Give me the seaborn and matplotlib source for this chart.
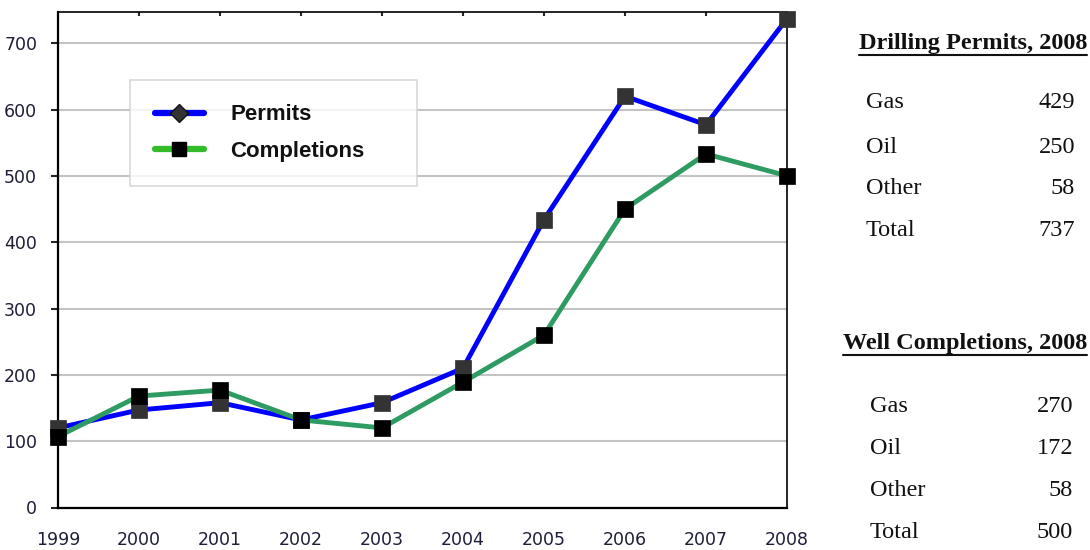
import numpy as np
import pandas as pd
import matplotlib
matplotlib.use("Agg")
import matplotlib.pyplot as plt
from matplotlib.lines import Line2D
import seaborn as sns

# Annual drilling activity
years = [1999, 2000, 2001, 2002, 2003, 2004, 2005, 2006, 2007, 2008]
permits = [120, 147, 158, 132, 158, 210, 434, 620, 577, 737]
completions = [107, 168, 177, 132, 120, 189, 260, 450, 533, 500]
y_ticks = [0, 100, 200, 300, 400, 500, 600, 700]

# 2008 breakdown tables
permit_types = ["Gas", "Oil", "Other", "Total"]
permit_counts = [429, 250, 58, 737]
completion_types = ["Gas", "Oil", "Other", "Total"]
completion_counts = [270, 172, 58, 500]

sns.set_style("white")
plt.rcParams["font.family"] = ["DejaVu Sans"]

df = pd.DataFrame({"Year": years, "Permits": permits, "Completions": completions})

fig = plt.figure(figsize=(10.9, 5.5), dpi=100)
ax = fig.add_axes([58 / 1090, 42.5 / 550, 729 / 1090, 495.5 / 550])

blue = "#0000FF"
green = "#2E9B62"

sns.lineplot(data=df, x="Year", y="Permits", ax=ax, color=blue, linewidth=3.5,
             marker="s", markersize=12, markerfacecolor="#333333",
             markeredgecolor="#333333", clip_on=False, zorder=3)
sns.lineplot(data=df, x="Year", y="Completions", ax=ax, color=green, linewidth=3.5,
             marker="s", markersize=12, markerfacecolor="#000000",
             markeredgecolor="#000000", clip_on=False, zorder=4)
for ln, fc in zip(ax.lines, ["#333333", "#000000"]):
    ln.set_markerfacecolor(fc)
    ln.set_markeredgecolor(fc)
    ln.set_markeredgewidth(0.5)

ax.set_xlim(years[0], years[-1])
ax.set_ylim(0, 747)
ax.set_xticks(years)
ax.set_xticklabels([str(y) for y in years])
ax.set_yticks(y_ticks)
ax.set_xlabel("")
ax.set_ylabel("")

ax.yaxis.grid(True, color="#C4C4C4", linewidth=1.5)
ax.xaxis.grid(False)
ax.set_axisbelow(True)

for side in ["left", "bottom", "top", "right"]:
    ax.spines[side].set_visible(True)
    ax.spines[side].set_color("#000000")
ax.spines["left"].set_linewidth(1.6)
ax.spines["bottom"].set_linewidth(1.6)
ax.spines["top"].set_linewidth(1.2)
ax.spines["right"].set_linewidth(1.2)

label_color = "#1E1E38"
ax.tick_params(axis="y", left=True, direction="out", length=5, width=1.5,
               pad=10, labelsize=12.5, labelcolor=label_color)
ax.tick_params(axis="x", bottom=False, length=0, pad=17, labelsize=12.5,
               labelcolor=label_color)

# small inward ticks along the top edge
top = ax.secondary_xaxis("top")
top.set_xticks(years[1:-1])
top.tick_params(direction="in", length=3, width=1.5, labeltop=False)
top.spines["top"].set_visible(False)

# legend
handles = [
    Line2D([0], [0], color=blue, lw=4.5, marker="D", markersize=9,
           markerfacecolor="#333333", markeredgecolor="#111111"),
    Line2D([0], [0], color="#33BB2A", lw=4.5, marker="s", markersize=10,
           markerfacecolor="#000000", markeredgecolor="#000000"),
]
leg = ax.legend(handles, ["Permits", "Completions"], loc="upper left",
                bbox_to_anchor=(0.099, 0.655, 0.394, 0.208), mode="expand",
                prop={"family": "Liberation Sans", "weight": "bold", "size": 16},
                frameon=True, fancybox=False, borderpad=1.1, labelspacing=0.7,
                handlelength=2.2, handletextpad=1.2, borderaxespad=0)
leg.get_frame().set_edgecolor("#D0D0D0")
leg.get_frame().set_linewidth(1.2)
for txt in leg.get_texts():
    txt.set_color("#111111")

# 2008 breakdown tables on the right
serif = "Liberation Serif"


def draw_table(title, title_right, title_y, names, counts, name_x, count_x, row_y):
    t = fig.text(title_right / 1090, 1 - title_y / 550, title, ha="right", va="center",
                 family=serif, weight="bold", fontsize=17.5, color="#111111")
    fig.canvas.draw()
    bb = t.get_window_extent()
    yline = (bb.y0 - 0.5) / 550
    fig.add_artist(Line2D([bb.x0 / 1090, bb.x1 / 1090], [yline, yline],
                          color="#111111", lw=1.5, transform=fig.transFigure))
    for name, cnt, yy in zip(names, counts, row_y):
        fig.text(name_x / 1090, 1 - yy / 550, name, ha="left", va="center",
                 family=serif, fontsize=17.5, color="#111111")
        fig.text(count_x / 1090, 1 - yy / 550, str(cnt), ha="right", va="center",
                 family=serif, fontsize=17.5, color="#111111")


draw_table("Drilling Permits, 2008", 1087, 44, permit_types, permit_counts,
           866, 1075, [103, 147, 189, 231])
draw_table("Well Completions, 2008", 1087, 344, completion_types, completion_counts,
           870, 1073, [407, 449, 491, 533])

fig.savefig("out.png", dpi=100)
